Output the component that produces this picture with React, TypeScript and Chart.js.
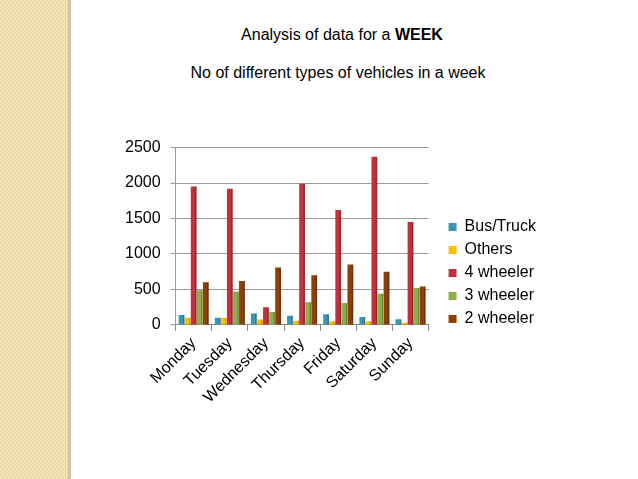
import React, { useEffect, useRef } from "react";
import Chart from "chart.js/auto";

const days = ["Monday", "Tuesday", "Wednesday", "Thursday", "Friday", "Saturday", "Sunday"];
const busTruck = [140, 100, 160, 130, 150, 110, 80];
const others = [100, 100, 75, 60, 50, 50, 30];
const fourWheeler = [1950, 1920, 250, 1990, 1620, 2370, 1450];
const threeWheeler = [490, 470, 180, 320, 310, 440, 520];
const twoWheeler = [600, 620, 810, 700, 850, 750, 540];
const yTicks = [0, 500, 1000, 1500, 2000, 2500];

const FONT = "'Liberation Sans', Arial, sans-serif";
const LEGEND_GAP = 13;
const LEGEND_DROP = 4;

// darker right face to hint at the 3D bars
const sideFace = {
  id: "sideFace",
  afterDatasetsDraw(chart: any) {
    const ctx = chart.ctx;
    chart.data.datasets.forEach((ds: any, i: number) => {
      const meta = chart.getDatasetMeta(i);
      meta.data.forEach((bar: any) => {
        const { x, y, base, width } = bar.getProps(["x", "y", "base", "width"], true);
        ctx.save();
        ctx.fillStyle = "rgba(0,0,0,0.22)";
        ctx.fillRect(x + width / 2 - 1.5, y, 1.5, base - y);
        ctx.restore();
      });
    });
  },
};

// extra space between the plot and the legend, and push the legend down a bit
const legendGap = {
  id: "legendGap",
  beforeLayout(chart: any) {
    const lg = chart.legend;
    if (lg && !lg._gapPatched) {
      const fit = lg.fit.bind(lg);
      lg.fit = () => {
        fit();
        lg.width += LEGEND_GAP;
      };
      lg._gapPatched = true;
    }
  },
  afterLayout(chart: any) {
    const lg = chart.legend;
    if (!lg) return;
    lg.left += LEGEND_GAP;
    lg.top += LEGEND_DROP;
    lg.bottom += LEGEND_DROP;
  },
};

const VehicleChart: React.FC = () => {
  const chartRef = useRef<HTMLCanvasElement | null>(null);
  const chartInstance = useRef<Chart | null>(null);

  useEffect(() => {
    if (!chartRef.current) return;
    if (chartInstance.current) chartInstance.current.destroy();
    const ctx = chartRef.current.getContext("2d");
    if (!ctx) return;

    chartInstance.current = new Chart(ctx, {
      type: "bar",
      data: {
        labels: days,
        datasets: [
          { label: "Bus/Truck", data: busTruck, backgroundColor: "#3A97B3" },
          { label: "Others", data: others, backgroundColor: "#FFC000" },
          { label: "4 wheeler", data: fourWheeler, backgroundColor: "#C3313A" },
          { label: "3 wheeler", data: threeWheeler, backgroundColor: "#8DB14A" },
          { label: "2 wheeler", data: twoWheeler, backgroundColor: "#8E3F0B" },
        ],
      },
      options: {
        animation: false,
        responsive: false,
        maintainAspectRatio: false,
        layout: { padding: { top: 0, right: 10, left: 0, bottom: 0 } },
        datasets: { bar: { categoryPercentage: 0.84, barPercentage: 0.95 } },
        plugins: {
          title: { display: false },
          tooltip: { enabled: false },
          legend: {
            position: "right",
            labels: {
              boxWidth: 8,
              boxHeight: 8,
              padding: 7,
              color: "#000",
              font: { family: FONT, size: 16 },
            },
          },
        },
        scales: {
          x: {
            grid: { display: true, drawOnChartArea: false, drawTicks: true, tickLength: 6, color: "#888" },
            border: { color: "#888" },
            ticks: {
              minRotation: 45,
              maxRotation: 45,
              color: "#000",
              font: { family: FONT, size: 16 },
            },
          },
          y: {
            min: 0,
            max: 2500,
            afterBuildTicks: (axis: any) => {
              axis.ticks = yTicks.map((v) => ({ value: v }));
            },
            grid: { color: "#999", drawTicks: true, tickLength: 5 },
            border: { color: "#999" },
            ticks: {
              padding: 10,
              color: "#000",
              font: { family: FONT, size: 16 },
              callback: (v: any) => String(v),
            },
          },
        },
      },
      plugins: [sideFace, legendGap],
    });

    return () => {
      if (chartInstance.current) {
        chartInstance.current.destroy();
        chartInstance.current = null;
      }
    };
  }, []);

  return <canvas ref={chartRef} width={441} height={282} style={{ width: 441, height: 282, display: "block" }} />;
};

export default function App() {
  return (
    <div
      style={{
        position: "fixed",
        left: 0,
        top: 0,
        width: 638,
        height: 479,
        background: "#fff",
        overflow: "hidden",
        fontFamily: FONT,
      }}
    >
      <div
        style={{
          position: "absolute",
          left: 0,
          top: 0,
          width: 68,
          height: 479,
          backgroundColor: "#F6E3B6",
          backgroundImage:
            "linear-gradient(45deg, #EFD9A6 25%, transparent 25%, transparent 75%, #EFD9A6 75%), linear-gradient(45deg, #EFD9A6 25%, transparent 25%, transparent 75%, #EFD9A6 75%)",
          backgroundSize: "4px 4px",
          backgroundPosition: "0 0, 2px 2px",
        }}
      />
      <div style={{ position: "absolute", left: 68, top: 0, width: 3, height: 479, background: "#CFC3A4" }} />
      <div style={{ position: "absolute", left: 0, width: 684, top: 26, textAlign: "center", fontSize: 16 }}>
        Analysis of data for a <b>WEEK</b>
      </div>
      <div style={{ position: "absolute", left: 0, width: 676, top: 64, textAlign: "center", fontSize: 16 }}>
        No of different types of vehicles in a week
      </div>
      <div style={{ position: "absolute", left: 115, top: 128 }}>
        <VehicleChart />
      </div>
    </div>
  );
}
